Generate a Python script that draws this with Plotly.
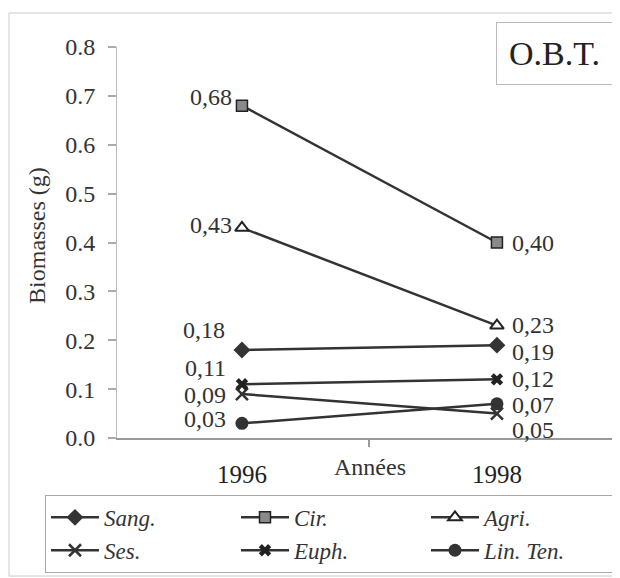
import plotly.graph_objects as go

years = ["1996", "1998"]
series_names = ["Sang.", "Cir.", "Agri.", "Ses.", "Euph.", "Lin. Ten."]
sang = [0.18, 0.19]
cir = [0.68, 0.40]
agri = [0.43, 0.23]
ses = [0.09, 0.05]
euph = [0.11, 0.12]
lin_ten = [0.03, 0.07]
y_ticks = [0.0, 0.1, 0.2, 0.3, 0.4, 0.5, 0.6, 0.7, 0.8]

values = [sang, cir, agri, ses, euph, lin_ten]
xpos = list(range(len(years)))

FONT = "Liberation Serif, Times New Roman, serif"
LINE = "#333333"
markers = [
    dict(symbol="diamond", size=13, color=LINE),
    dict(symbol="square", size=11, color="#8a8a8a", line=dict(color="#222222", width=1.5)),
    dict(symbol="triangle-up", size=12, color="white", line=dict(color="#222222", width=2)),
    dict(symbol="x-thin-open", size=12, color=LINE, line=dict(color=LINE, width=2.5)),
    dict(symbol="x", size=11, color="#222222", line=dict(width=0)),
    dict(symbol="circle", size=13, color=LINE),
]

fig = go.Figure()
for name, vals, mk in zip(series_names, values, markers):
    fig.add_trace(go.Scatter(
        x=xpos, y=vals, name=name, mode="lines+markers",
        line=dict(color=LINE, width=2.5), marker=mk,
    ))

# label offsets (xshift, yshift) for 1996 (left) and 1998 (right)
offsets = {
    "Sang.": [(-15, 20), (13, -7)],
    "Cir.": [(-8, 9), (13, 0)],
    "Agri.": [(-8, 3), (13, 1)],
    "Ses.": [(-14, -1), (13, -16)],
    "Euph.": [(-14, 16), (13, 0)],
    "Lin. Ten.": [(-14, 4), (13, -1)],
}
annotations = []
for name, vals in zip(series_names, values):
    for i, v in enumerate(vals):
        xs, ys = offsets[name][i]
        annotations.append(dict(
            x=xpos[i], y=v, xref="x", yref="y",
            text=f"{v:.2f}".replace(".", ","), showarrow=False,
            xanchor="right" if i == 0 else "left", yanchor="middle",
            xshift=xs, yshift=ys,
            font=dict(family=FONT, size=24, color="#333333"),
        ))

annotations.append(dict(
    x=0.508, y=-0.074, xref="paper", yref="paper", text="Années", showarrow=False,
    xanchor="center", yanchor="middle", font=dict(family=FONT, size=24, color="#333333"),
))
annotations.append(dict(
    x=-0.161, y=0.519, xref="paper", yref="paper", text="Biomasses (g)", showarrow=False,
    textangle=-90, xanchor="center", yanchor="middle",
    font=dict(family=FONT, size=24, color="#333333"),
))
annotations.append(dict(
    x=0.996, y=1.064, xref="paper", yref="paper", text="O.B.T.", showarrow=False,
    xanchor="right", yanchor="top", bordercolor="#bbbbbb", borderwidth=1, borderpad=12,
    font=dict(family=FONT, size=34, color="#222222"),
))

fig.update_layout(
    width=620, height=578,
    margin=dict(l=109, r=13, t=39, b=148),
    paper_bgcolor="white", plot_bgcolor="white",
    font=dict(family=FONT, size=24, color="#333333"),
    showlegend=True,
    legend=dict(
        orientation="h", x=-0.1446, y=-0.345, xanchor="left", yanchor="bottom",
        bordercolor="#aaaaaa", borderwidth=1, entrywidth=127, entrywidthmode="pixels",
        font=dict(family=FONT, size=23, color="#333333", style="italic"),
        tracegroupgap=0, itemwidth=48,
    ),
    annotations=annotations,
    shapes=[dict(type="rect", xref="paper", yref="paper", x0=-0.2169, x1=1.0,
                 y0=-0.353, y1=1.087, line=dict(color="#cccccc", width=1))],
)
fig.update_xaxes(
    range=[-0.490, 1.463], tickvals=xpos, ticktext=years, ticks="",
    showline=True, linecolor="#999999", linewidth=1.5, showgrid=False, zeroline=False,
    ticklabelstandoff=13, tickfont=dict(family=FONT, size=25, color="#222222"),
    minor=dict(tickmode="array", tickvals=[0.5], ticks="outside", ticklen=7,
               tickcolor="#999999", tickwidth=1.5, showgrid=False),
)
fig.update_yaxes(
    range=[0, 0.8], tickvals=y_ticks, ticktext=[f"{t:.1f}" for t in y_ticks],
    ticks="outside", ticklen=8, tickcolor="#aaaaaa", tickwidth=1.5,
    showline=True, linecolor="#bbbbbb", linewidth=1, showgrid=False, zeroline=False,
    ticklabelstandoff=8, tickfont=dict(family=FONT, size=24, color="#333333"),
)
fig.write_html("out.html")
